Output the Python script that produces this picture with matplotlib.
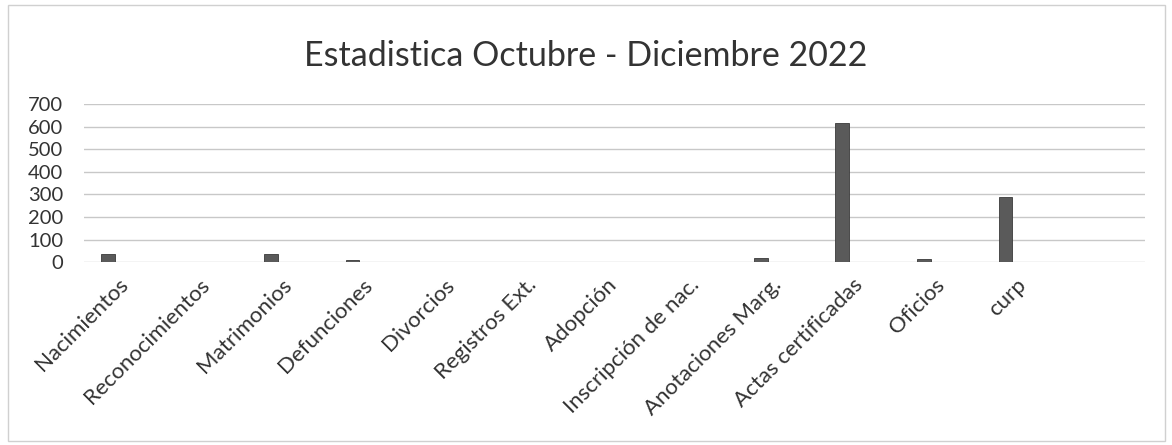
import numpy as np
import matplotlib
matplotlib.use("Agg")
import matplotlib.pyplot as plt
import matplotlib.transforms as mtransforms
from matplotlib.patches import Rectangle

# datos
categorias = ["Nacimientos", "Reconocimientos", "Matrimonios", "Defunciones",
              "Divorcios", "Registros Ext.", "Adopción", "Inscripción de nac.",
              "Anotaciones Marg.", "Actas certificadas", "Oficios", "curp"]
valores = [38, 0, 36, 8, 0, 0, 0, 0, 20, 616, 12, 290]
ticks_y = [0, 100, 200, 300, 400, 500, 600, 700]
titulo = "Estadistica Octubre - Diciembre 2022"

plt.rcParams['font.family'] = ['Lato', 'DejaVu Sans']

fig = plt.figure(figsize=(11.72, 4.45), dpi=100)
ax = fig.add_axes([0.0717, 0.411, 0.9053, 0.355])

# borde del area del grafico
fig.patches.append(Rectangle((0.007, 0.01), 0.987, 0.978, transform=fig.transFigure,
                             fill=False, edgecolor='#d0d0d0', linewidth=1))

x = np.arange(len(categorias))
ax.bar(x - 0.21, valores, width=0.17, color='#5a5a5a', edgecolor='#3a3a3a',
       linewidth=0.6, zorder=3)

ax.set_xlim(-0.5, len(categorias) + 0.5)
ax.set_ylim(0, 700)
ax.set_yticks(ticks_y)
ax.set_yticklabels([str(v) for v in ticks_y], fontsize=14.5, color='#333333')
ax.grid(axis='y', color='#c8c8c8', linewidth=1, zorder=0)
ax.tick_params(axis='y', length=0, pad=15)

ax.set_xticks(x)
ax.set_xticklabels(categorias, rotation=45, ha='right', va='top',
                   rotation_mode='anchor', fontsize=16, color='#333333')
ax.tick_params(axis='x', length=0, pad=9)
# pequeno corrimiento a la izquierda de las etiquetas
desplazar = mtransforms.ScaledTranslation(-7 / 100, 0, fig.dpi_scale_trans)
for lab in ax.get_xticklabels():
    lab.set_transform(lab.get_transform() + desplazar)

for s in ax.spines.values():
    s.set_visible(False)

fig.text(0.5, 0.875, titulo, ha='center', va='center', fontsize=24.5, color='#333333')

fig.savefig("out.png", dpi=100)
